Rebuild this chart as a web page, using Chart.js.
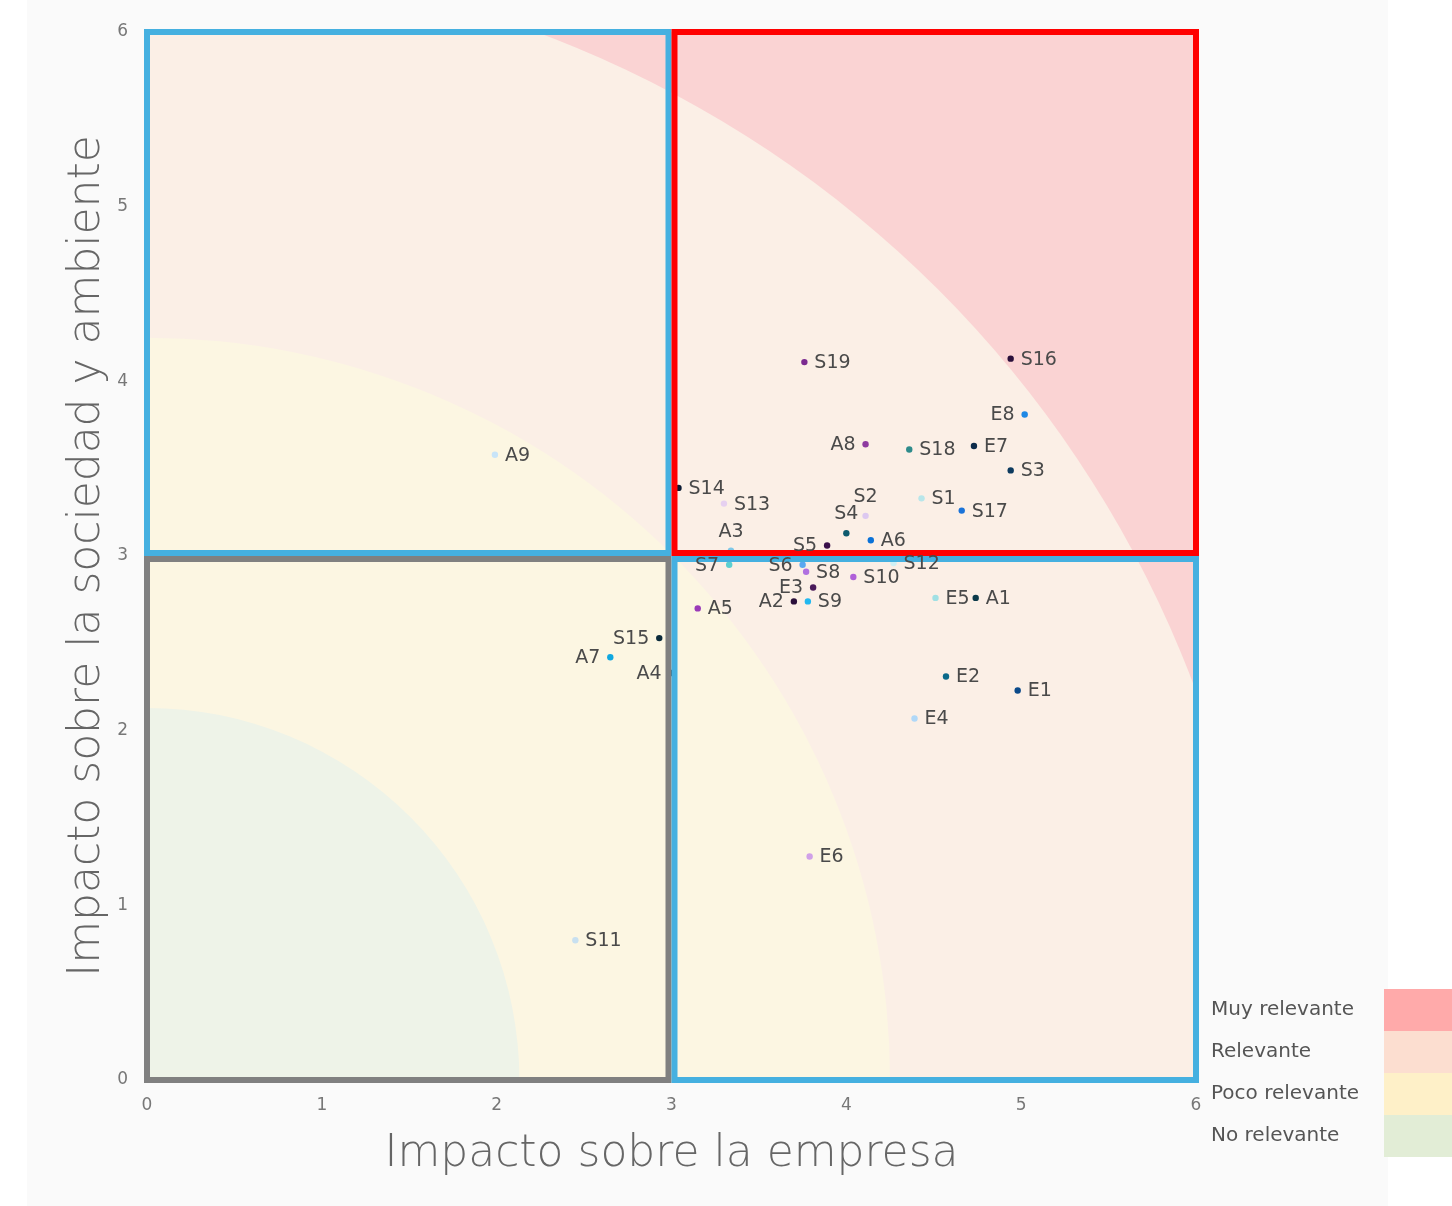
<!DOCTYPE html>
<html lang="es">
<head>
    <title>Matriz de materialidad</title>
    <meta charset="utf-8">
    <script src="https://cdn.jsdelivr.net/npm/chart.js@4"></script>
    <style>
        html, body { margin: 0; padding: 0; background: #ffffff; }
        #wrap { position: relative; width: 1452px; height: 1206px; }
        #panel { position: absolute; left: 27px; top: 0; width: 1361px; height: 1206px; background: #fafafa; }
        #matrixChart { position: absolute; left: 0; top: 0; }
    </style>
</head>
<body>
    <div id="wrap">
        <div id="panel"></div>
        <canvas id="matrixChart" width="1452" height="1206"></canvas>
    </div>

    <script>
        // asuntos materiales: codigo, impacto sobre la empresa (x), impacto sobre la sociedad y ambiente (y)
        var codes = ['S19', 'S16', 'E8', 'A8', 'S18', 'E7', 'S3', 'S14', 'S13', 'S2',
                     'S4', 'S1', 'S17', 'A6', 'S5', 'A3', 'S7', 'S6', 'S8', 'S12',
                     'S10', 'E3', 'A2', 'S9', 'E5', 'A1', 'A5', 'E2', 'E1', 'E4',
                     'E6', 'A9', 'S15', 'A7', 'A4', 'S11'];
        var impactoEmpresa = [3.76, 4.94, 5.02, 4.11, 4.36, 4.73, 4.94, 3.04, 3.30, 4.11,
                              4.00, 4.43, 4.66, 4.14, 3.89, 3.34, 3.33, 3.75, 3.77, 4.27,
                              4.04, 3.81, 3.70, 3.78, 4.51, 4.74, 3.15, 4.57, 4.98, 4.39,
                              3.79, 1.99, 2.93, 2.65, 3.00, 2.45];
        var impactoSociedad = [4.11, 4.13, 3.81, 3.64, 3.61, 3.63, 3.49, 3.39, 3.30, 3.23,
                               3.13, 3.33, 3.26, 3.09, 3.06, 3.03, 2.95, 2.95, 2.91, 2.96,
                               2.88, 2.82, 2.74, 2.74, 2.76, 2.76, 2.70, 2.31, 2.23, 2.07,
                               1.28, 3.58, 2.53, 2.42, 2.33, 0.80];

        // estilo de cada punto y lado de su etiqueta (r = derecha, l = izquierda, t = arriba)
        var pointColors = ['#7b2a90', '#2a0f3a', '#1e88e5', '#8e3aa0', '#2e8b8b', '#0d2b4a', '#0d3a5e', '#0a1a33', '#e6d0f0', '#dcc8f0',
                           '#0d5a6e', '#b8e6ea', '#1a73d9', '#0a72d8', '#3a0f4a', '#7fc8e8', '#5ccfd0', '#5aa8f0', '#b070e0', '#d0f0f4',
                           '#b060d8', '#4a1a5a', '#2a0f3a', '#22b8f0', '#a0e0e4', '#0b3a4a', '#9a3ab8', '#0b6a8a', '#0b4a8a', '#b0d8f8',
                           '#d0a0e8', '#c8e4f8', '#0b2a3a', '#10a8e0', '#0b2a3a', '#c8e0f0'];
        var labelSide = ['r', 'r', 'l', 'l', 'r', 'r', 'r', 'r', 'r', 't',
                         't', 'r', 'r', 'r', 'l', 't', 'l', 'l', 'r', 'r',
                         'r', 'l', 'l', 'r', 'r', 'r', 'r', 'r', 'r', 'r',
                         'r', 'r', 'l', 'l', 'l', 'r'];

        var axisTicks = [0, 1, 2, 3, 4, 5, 6];

        // zonas de relevancia (radios desde el origen) y leyenda
        var zoneLabels = ['Muy relevante', 'Relevante', 'Poco relevante', 'No relevante'];
        var zoneRadii = [6.4, 4.25, 2.13];
        var zoneFill = ['#fad3d3', '#fbefe6', '#fcf6e2', '#eef3e8'];
        var zoneLegendColors = ['#ffaaaa', '#fcded0', '#fef0c8', '#e2edd6'];

        // cuadrantes
        var quadrants = [
            { x0: 0, x1: 3, y0: 0, y1: 3, color: '#808080' },
            { x0: 3, x1: 6, y0: 0, y1: 3, color: '#45b0e0' },
            { x0: 0, x1: 3, y0: 3, y1: 6, color: '#45b0e0' },
            { x0: 3, x1: 6, y0: 3, y1: 6, color: '#ff0000' }
        ];

        var FONT = '"DejaVu Sans", sans-serif';

        var points = codes.map(function (c, i) {
            return { x: impactoEmpresa[i], y: impactoSociedad[i] };
        });

        var matrixPlugin = {
            id: 'matrix',
            beforeDatasetsDraw: function (chart) {
                var ctx = chart.ctx, a = chart.chartArea;
                var xs = chart.scales.x, ys = chart.scales.y;
                var ox = xs.getPixelForValue(0), oy = ys.getPixelForValue(0);
                ctx.save();
                ctx.beginPath();
                ctx.rect(a.left, a.top, a.right - a.left, a.bottom - a.top);
                ctx.clip();
                ctx.fillStyle = zoneFill[0];
                ctx.fillRect(a.left, a.top, a.right - a.left, a.bottom - a.top);
                for (var i = 0; i < zoneRadii.length; i++) {
                    var rx = xs.getPixelForValue(zoneRadii[i]) - ox;
                    var ry = oy - ys.getPixelForValue(zoneRadii[i]);
                    ctx.beginPath();
                    ctx.ellipse(ox, oy, rx, ry, 0, 0, Math.PI * 2);
                    ctx.fillStyle = zoneFill[i + 1];
                    ctx.fill();
                }
                ctx.restore();
            },
            afterDatasetsDraw: function (chart) {
                var ctx = chart.ctx;
                var xs = chart.scales.x, ys = chart.scales.y;
                var lw = 6;
                ctx.save();
                // recuadros de cuadrantes
                quadrants.forEach(function (q) {
                    var l = xs.getPixelForValue(q.x0) + (q.x0 === 3 ? lw / 2 : 0);
                    var r = xs.getPixelForValue(q.x1) - (q.x1 === 3 ? lw / 2 : 0);
                    var t = ys.getPixelForValue(q.y1) + (q.y1 === 3 ? lw / 2 : 0);
                    var b = ys.getPixelForValue(q.y0) - (q.y0 === 3 ? lw / 2 : 0);
                    ctx.strokeStyle = q.color;
                    ctx.lineWidth = lw;
                    ctx.strokeRect(l, t, r - l, b - t);
                });
                // etiquetas de puntos
                ctx.font = '19px ' + FONT;
                ctx.fillStyle = '#4a4a4a';
                var meta = chart.getDatasetMeta(0);
                meta.data.forEach(function (el, i) {
                    var side = labelSide[i];
                    if (side === 'r') {
                        ctx.textAlign = 'left'; ctx.textBaseline = 'middle';
                        ctx.fillText(codes[i], el.x + 10, el.y + 1);
                    } else if (side === 'l') {
                        ctx.textAlign = 'right'; ctx.textBaseline = 'middle';
                        ctx.fillText(codes[i], el.x - 10, el.y + 1);
                    } else {
                        ctx.textAlign = 'center'; ctx.textBaseline = 'middle';
                        ctx.fillText(codes[i], el.x, el.y - 19);
                    }
                });
                ctx.restore();
            },
            afterDraw: function (chart) {
                var ctx = chart.ctx;
                ctx.save();
                ctx.font = '20px ' + FONT;
                ctx.textAlign = 'left';
                ctx.textBaseline = 'middle';
                for (var i = 0; i < zoneLabels.length; i++) {
                    var top = 989 + i * 42;
                    ctx.fillStyle = zoneLegendColors[i];
                    ctx.fillRect(1384, top, 68, 42);
                    ctx.fillStyle = '#555555';
                    ctx.fillText(zoneLabels[i], 1211, top + 21);
                }
                ctx.restore();
            }
        };

        var ctx = document.getElementById('matrixChart').getContext('2d');
        var matrixChart = new Chart(ctx, {
            type: 'scatter',
            data: {
                datasets: [{
                    label: 'Asuntos materiales',
                    data: points,
                    pointBackgroundColor: pointColors,
                    pointBorderWidth: 0,
                    pointRadius: 3.2
                }]
            },
            options: {
                responsive: false,
                animation: false,
                layout: {
                    padding: { left: 40, right: 256, top: 32, bottom: 20 }
                },
                plugins: {
                    legend: { display: false },
                    tooltip: { enabled: false }
                },
                scales: {
                    x: {
                        type: 'linear',
                        min: 0,
                        max: 6,
                        afterBuildTicks: function (scale) {
                            scale.ticks = axisTicks.map(function (v) { return { value: v }; });
                        },
                        afterFit: function (scale) { scale.height = 106; },
                        grid: { display: false, drawTicks: false },
                        border: { display: false },
                        ticks: { padding: 15, color: '#777777', font: { family: FONT, size: 17 } },
                        title: {
                            display: true,
                            text: 'Impacto sobre la empresa',
                            color: '#666666',
                            font: { family: FONT, size: 44, weight: '200', lineHeight: 1 },
                            padding: { top: 53, bottom: 9 }
                        }
                    },
                    y: {
                        type: 'linear',
                        min: 0,
                        max: 6,
                        afterBuildTicks: function (scale) {
                            scale.ticks = axisTicks.map(function (v) { return { value: v }; });
                        },
                        afterFit: function (scale) { scale.width = 107; },
                        grid: { display: false, drawTicks: false },
                        border: { display: false },
                        ticks: { padding: 19, color: '#777777', font: { family: FONT, size: 17 } },
                        title: {
                            display: true,
                            text: 'Impacto sobre la sociedad y ambiente',
                            color: '#666666',
                            font: { family: FONT, size: 44, weight: '200', lineHeight: 1 },
                            padding: { top: 26, bottom: 8 }
                        }
                    }
                }
            },
            plugins: [matrixPlugin]
        });
    </script>
</body>
</html>
